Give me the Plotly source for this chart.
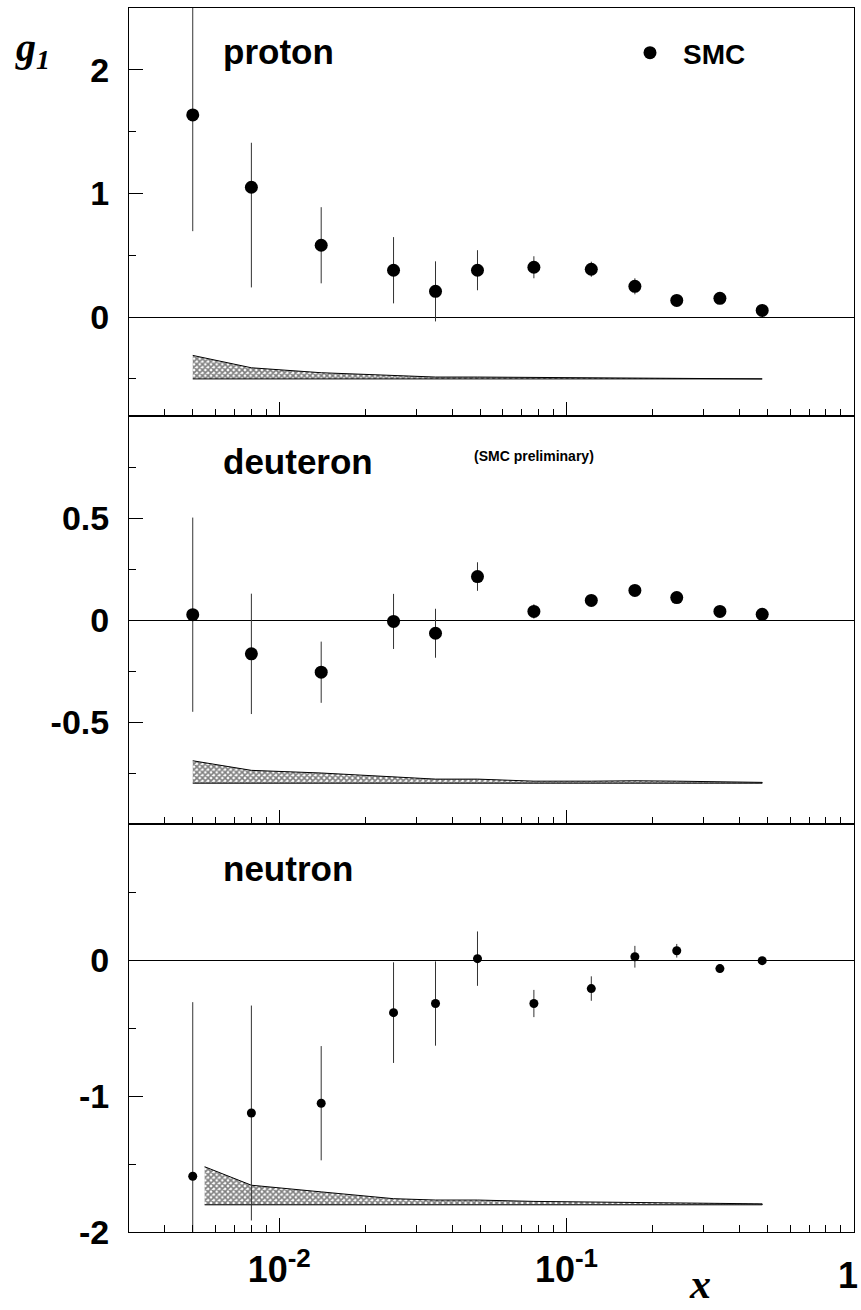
import plotly.graph_objects as go
from plotly.subplots import make_subplots

# ---------------- data ----------------
x_vals = [0.005, 0.008, 0.014, 0.025, 0.035, 0.049, 0.077, 0.122, 0.173, 0.242, 0.342, 0.480]

g1_proton = [1.635, 1.05, 0.581, 0.379, 0.208, 0.379, 0.403, 0.387, 0.249, 0.135, 0.152, 0.054]
err_proton_up = [0.94, 0.36, 0.308, 0.268, 0.243, 0.162, 0.089, 0.061, 0.065, 0.03, 0.025, 0.015]
err_proton_dn = [0.94, 0.81, 0.308, 0.268, 0.243, 0.162, 0.089, 0.061, 0.065, 0.03, 0.025, 0.015]

g1_deuteron = [0.026, -0.166, -0.256, -0.007, -0.065, 0.213, 0.042, 0.096, 0.145, 0.110, 0.042, 0.028]
err_deuteron = [0.476, 0.295, 0.150, 0.135, 0.120, 0.070, 0.035, 0.025, 0.020, 0.015, 0.015, 0.010]

g1_neutron = [-1.59, -1.125, -1.053, -0.387, -0.32, 0.01, -0.32, -0.21, 0.024, 0.068, -0.063, -0.005]
err_neutron = [1.28, 0.79, 0.42, 0.37, 0.31, 0.20, 0.10, 0.09, 0.08, 0.05, 0.03, 0.01]

# systematic error bands
syst_x_pd = [0.005, 0.008, 0.014, 0.025, 0.035, 0.049, 0.077, 0.122, 0.173, 0.242, 0.342, 0.480]
syst_x_n = [0.0055, 0.008, 0.014, 0.025, 0.035, 0.049, 0.077, 0.122, 0.173, 0.242, 0.342, 0.480]
syst_proton = [0.19, 0.09, 0.05, 0.03, 0.015, 0.015, 0.012, 0.012, 0.010, 0.008, 0.006, 0.004]
syst_deuteron = [0.11, 0.063, 0.05, 0.03, 0.02, 0.02, 0.01, 0.01, 0.012, 0.010, 0.006, 0.004]
syst_neutron = [0.28, 0.144, 0.095, 0.045, 0.035, 0.035, 0.025, 0.020, 0.020, 0.015, 0.010, 0.007]
band_base = {"proton": -0.5, "deuteron": -0.8, "neutron": -1.8}

y_ranges = {"proton": [-0.8, 2.5], "deuteron": [-1.0, 1.0], "neutron": [-2.0, 1.0]}
y_major = {"proton": [0, 1, 2], "deuteron": [-0.5, 0, 0.5], "neutron": [-2, -1, 0]}
y_major_text = {"proton": ["0", "1", "2"], "deuteron": ["-0.5", "0", "0.5"], "neutron": ["-2", "-1", "0"]}
y_minor = {"proton": [-0.5, 0.5, 1.5], "deuteron": [-0.75, -0.25, 0.25, 0.75], "neutron": [-1.5, -0.5, 0.5]}

x_major = [0.01, 0.1, 1]
x_major_text = ["10<sup><span style='font-size:26px'>-2</span></sup>",
                "10<sup><span style='font-size:26px'>-1</span></sup>", ""]
x_edge_label = "1"  # label of the x = 1 tick at the right frame edge
x_minor = [0.003, 0.004, 0.005, 0.006, 0.007, 0.008, 0.009,
           0.02, 0.03, 0.04, 0.05, 0.06, 0.07, 0.08, 0.09,
           0.2, 0.3, 0.4, 0.5, 0.6, 0.7, 0.8, 0.9]

# ---------------- figure ----------------
W, H = 861, 1310
ML, MR, MT, MB = 129, 7, 8, 78
PW, PH = W - ML - MR, H - MT - MB

def px(xp):
    return (xp - ML) / PW

def py(yp):
    return (H - MB - yp) / PH

fig = make_subplots(rows=3, cols=1, shared_xaxes=True, vertical_spacing=0)

FONT = "Liberation Sans, Arial, Helvetica, sans-serif"
SERIF = "Liberation Serif, Times New Roman, serif"

panels = [
    ("proton", g1_proton, err_proton_up, err_proton_dn, syst_x_pd, syst_proton, 13),
    ("deuteron", g1_deuteron, err_deuteron, err_deuteron, syst_x_pd, syst_deuteron, 13),
    ("neutron", g1_neutron, err_neutron, err_neutron, syst_x_n, syst_neutron, 9),
]

for i, (name, g1, eup, edn, sx, syst, msize) in enumerate(panels, start=1):
    base = band_base[name]
    top = [base + s for s in syst]
    fig.add_trace(go.Scatter(
        x=list(sx) + list(sx[::-1]),
        y=top + [base] * len(sx),
        mode="lines", fill="toself", fillcolor="white",
        fillpattern=dict(shape="x", size=4, solidity=0.65, fgcolor="black", bgcolor="white"),
        line=dict(color="black", width=1),
        showlegend=False, hoverinfo="skip"), row=i, col=1)
    fig.add_trace(go.Scatter(
        x=x_vals, y=g1, mode="markers",
        marker=dict(color="black", size=msize, symbol="circle"),
        error_y=dict(type="data", symmetric=False, array=eup, arrayminus=edn,
                     color="#333333", thickness=1, width=0),
        name="SMC", showlegend=(i == 1)), row=i, col=1)

    fig.update_yaxes(
        row=i, col=1, range=y_ranges[name], automargin=False,
        tickmode="array", tickvals=y_major[name], ticktext=y_major_text[name],
        ticks="inside", ticklen=14, tickwidth=1, tickcolor="black",
        minor=dict(tickmode="array", tickvals=y_minor[name], ticks="inside", ticklen=7, tickcolor="black"),
        showgrid=False, zeroline=True, zerolinecolor="black", zerolinewidth=1,
        showline=True, linecolor="black", linewidth=1, mirror=True,
        tickfont=dict(family=FONT, size=34, color="black", weight="bold"),
        ticklabelstandoff=12)
    fig.update_xaxes(
        row=i, col=1, type="log", range=[-2.5229, 0.0008], automargin=False,
        tickmode="array", tickvals=x_major, ticktext=x_major_text,
        ticks="inside", ticklen=14, tickwidth=1, tickcolor="black",
        minor=dict(tickmode="array", tickvals=x_minor, ticks="inside", ticklen=7, tickcolor="black"),
        showgrid=False, zeroline=False,
        showline=True, linecolor="black", linewidth=1, mirror=True,
        showticklabels=(i == 3), ticklabeloverflow="allow",
        tickfont=dict(family=FONT, size=36, color="black", weight="bold"),
        ticklabelstandoff=6)

# edge tick label "1" (kept inside the canvas)
fig.add_annotation(text="<b>" + x_edge_label + "</b>", xref="x3", yref="paper",
                   x=0, y=py(1275), xanchor="right", yanchor="middle", xshift=6,
                   showarrow=False, font=dict(family=FONT, size=36, color="black"))

annots = [
    dict(text="<b>proton</b>", x=px(221), y=py(52), size=35, family=FONT, xanchor="left", yanchor="middle"),
    dict(text="<b>deuteron</b>", x=px(221), y=py(461), size=35, family=FONT, xanchor="left", yanchor="middle"),
    dict(text="<b>neutron</b>", x=px(221), y=py(869), size=35, family=FONT, xanchor="left", yanchor="middle"),
    dict(text="<b>(SMC preliminary)</b>", x=px(472), y=py(456), size=14, family=FONT, xanchor="left", yanchor="middle"),
    dict(text="<b><i>g</i></b><sub><b><i>1</i></b></sub>", x=px(13), y=py(50), size=40, family=SERIF, xanchor="left", yanchor="middle"),
    dict(text="<b><i>x</i></b>", x=px(700), y=py(1309), size=42, family=SERIF, xanchor="center", yanchor="bottom"),
]
for a in annots:
    fig.add_annotation(text=a["text"], x=a["x"], y=a["y"], xref="paper", yref="paper",
                       xanchor=a["xanchor"], yanchor=a["yanchor"], showarrow=False,
                       font=dict(family=a["family"], size=a["size"], color="black"))

fig.update_layout(
    width=W, height=H,
    margin=dict(l=ML, r=MR, t=MT, b=MB, autoexpand=False),
    paper_bgcolor="white", plot_bgcolor="white",
    showlegend=True,
    legend=dict(x=px(617), y=py(53), xanchor="left", yanchor="middle",
                bgcolor="rgba(0,0,0,0)", borderwidth=0, itemwidth=56,
                font=dict(family=FONT, size=28, color="black", weight="bold")),
)

fig.write_html("out.html")
